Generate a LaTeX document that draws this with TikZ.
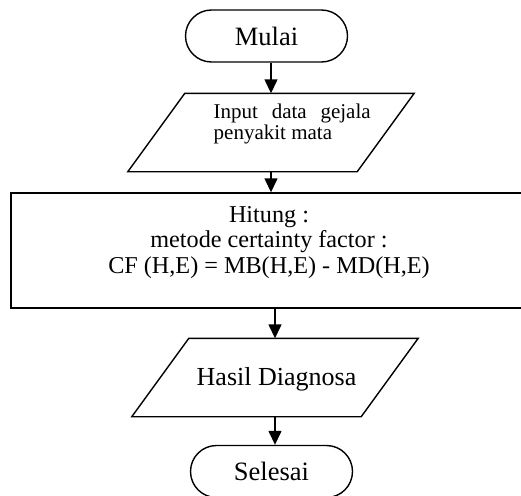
\documentclass[tikz,border=0pt]{standalone}
\usepackage{fontspec}
\setmainfont{Liberation Serif}
\usetikzlibrary{arrows.meta}
\begin{document}
\begin{tikzpicture}[x=1pt,y=-1pt,
  line width=1.4pt,
  term/.style={draw, rounded corners=26pt, minimum width=162pt, minimum height=52pt, inner sep=0pt, font=\fontsize{26.5}{30}\selectfont},
  pbody/.style={minimum width=228pt, minimum height=77pt, inner sep=0pt},
  flow/.style={-{Triangle[length=14pt,width=13pt]}}]
\useasboundingbox (0,0) rectangle (521,495);
% start
\node[term] (mulai) at (266.5,36) {Mulai};
% input parallelogram
\node[pbody] (input) at (271,132.5) {};
\draw ([xshift=28.5pt]input.north west) -- ([xshift=28.5pt]input.north east)
  -- ([xshift=-28.5pt]input.south east) -- ([xshift=-28.5pt]input.south west) -- cycle;
\node[anchor=north west, inner sep=0pt, align=left, font=\fontsize{21}{21.5}\selectfont] (inputtext) at (213,103)
  {\makebox[157pt][s]{Input data gejala}\\penyakit mata};
% process
\node[draw, minimum width=520pt, minimum height=115pt, inner sep=0pt] (hitung) at (271,250.5) {};
\node[align=center, inner sep=0pt, font=\fontsize{24.2}{24}\selectfont] (hitungtext) at (269,243)
  {Hitung :\\[1pt]metode certainty factor :\\[2pt]CF (H,E) = MB(H,E) - MD(H,E)};
% output parallelogram
\node[pbody] (hasil) at (275,377.5) {};
\draw ([xshift=28.5pt]hasil.north west) -- ([xshift=28.5pt]hasil.north east)
  -- ([xshift=-28.5pt]hasil.south east) -- ([xshift=-28.5pt]hasil.south west) -- cycle;
\node[inner sep=0pt, font=\fontsize{26}{30}\selectfont] (hasiltext) at (276.5,379) {Hasil Diagnosa};
% end
\node[term] (selesai) at (271.5,471.5) {\raisebox{-4pt}{Selesai}};
% connectors
\draw[flow] (mulai.south -| input.north) -- (input.north);
\draw[flow] (input.south) -- (input.south |- hitung.north);
\draw[flow] (hitung.south -| hasil.north) -- (hasil.north);
\draw[flow] (hasil.south) -- (hasil.south |- selesai.north);
\end{tikzpicture}
\end{document}
